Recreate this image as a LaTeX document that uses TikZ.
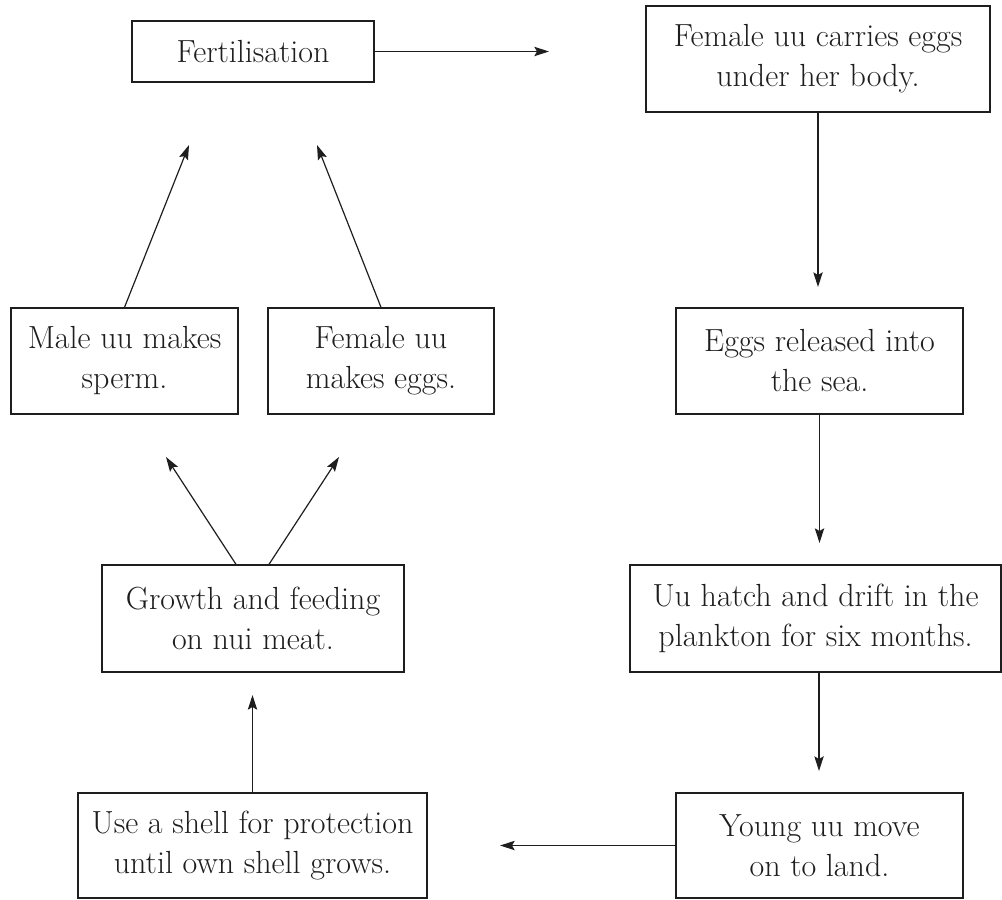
\documentclass[tikz,border=0pt]{standalone}
\usetikzlibrary{arrows.meta,calc}
\definecolor{ink}{HTML}{1E1E1E}
\begin{document}
\begin{tikzpicture}[x=0.75pt,y=-0.75pt,
  stage/.style={draw=ink,line width=1pt,text=ink,align=center,inner sep=0pt,
    font=\fontsize{24}{30}\selectfont},
  sz/.style 2 args={minimum width=#1*0.75pt,minimum height=#2*0.75pt},
  flow/.style={draw=ink,line width=0.9pt,-{Stealth[length=11pt,width=7pt,inset=2pt]}}]
\useasboundingbox (0,0) rectangle (1002,899);

% stages of the cycle
\node[stage,sz={242}{61}]  (fert)   at (253,51.5)   {Fertilisation};
\node[stage,sz={344}{106}] (carry)  at (818,59)     {Female uu carries eggs\\under her body.};
\node[stage,sz={287}{106}] (eggs)   at (819.5,361)  {Eggs released into\\the sea.};
\node[stage,sz={371}{107}] (hatch)  at (815.5,618.5){Uu hatch and drift in the\\plankton for six months.};
\node[stage,sz={287}{105}] (young)  at (819.5,845.5){Young uu move\\on to land.};
\node[stage,sz={349}{105}] (shell)  at (252.5,845.5){Use a shell for protection\\until own shell grows.};
\node[stage,sz={302}{107}] (growth) at (253,618.5)  {Growth and feeding\\on nui meat.};
\node[stage,sz={227}{106}] (male)   at (124.5,361)  {Male uu makes\\sperm.};
\node[stage,sz={226}{106}] (female) at (381,361)    {Female uu\\makes eggs.};

% free ends of the arrows
\coordinate (t1) at (549,51.5);
\coordinate (t2) at (818,287);
\coordinate (t3) at (819.5,543);
\coordinate (t4) at (819,771);
\coordinate (t5) at (500,845.5);
\coordinate (t6) at (252.5,695);
\coordinate (t7) at (166,457);
\coordinate (t8) at (339,457);
\coordinate (t9) at (189,145);
\coordinate (t10) at (317,145);

\draw[flow] (fert.east) -- (t1);
\draw[flow] (carry.south) -- (t2);
\draw[flow] (eggs.south) -- (t3);
\draw[flow] (t4 |- hatch.south) -- (t4);
\draw[flow] (young.west) -- (t5);
\draw[flow] (shell.north) -- (t6);
\draw[flow] ($(growth.north)+(-17,0)$) -- (t7);
\draw[flow] ($(growth.north)+(16,0)$) -- (t8);
\draw[flow] (male.north) -- (t9);
\draw[flow] (female.north) -- (t10);
\end{tikzpicture}
\end{document}
